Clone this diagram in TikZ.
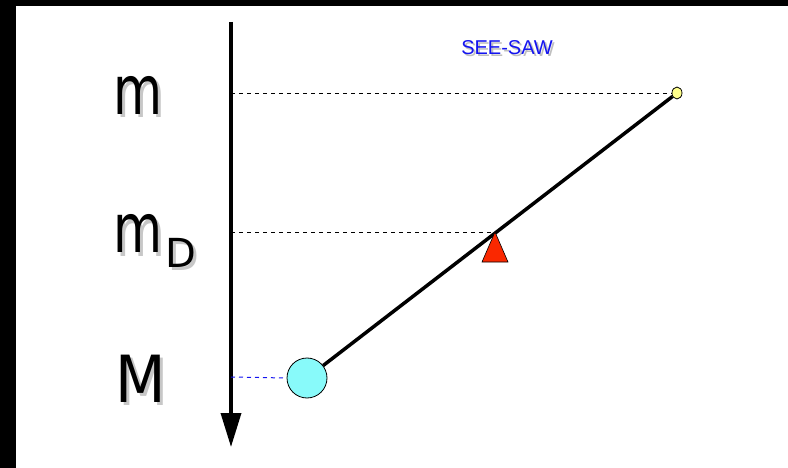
\documentclass[tikz,border=0pt]{standalone}
\usepackage{fontspec}
\setmainfont{Liberation Sans}
\newfontfamily\hand{DejaVu Sans}
\usetikzlibrary{arrows.meta,shapes.geometric}
\definecolor{ballcyan}{RGB}{136,250,250}
\definecolor{tipyellow}{RGB}{255,255,140}
\definecolor{fulcrumred}{RGB}{250,40,0}
\definecolor{seeblue}{RGB}{20,20,240}
\newcommand{\seesawm}{\scalebox{0.74}[1]{\fontsize{68}{72}\selectfont m}}
\newcommand{\seesawmd}{\seesawm\hspace{3pt}\raisebox{-14pt}{\fontsize{40}{44}\selectfont D}}
\newcommand{\seesawM}{\scalebox{0.9}[1]{\fontsize{65}{70}\selectfont M}}
\tikzset{
  guide/.style={dashed, line width=0.8pt, dash pattern=on 4pt off 4pt},
  lbl/.style={font=\hand, inner sep=0pt, anchor=base west},
  shade/.style={lbl, text=black!22},
}
\begin{document}
\begin{tikzpicture}[x=1pt,y=-1pt]
\useasboundingbox (0,0) rectangle (788,468);
\fill[white] (0,0) rectangle (788,468);
\fill[black] (0,0) rectangle (16,468);
\fill[black] (0,0) rectangle (788,6);
% axis
\coordinate (atop) at (231,22);
\coordinate (abot) at (231,447);
\draw[line width=3.5pt, -{Triangle[width=20pt,length=34pt]}] (atop) -- (abot);
% levels
\coordinate (lm) at (231,93);
\coordinate (lmd) at (231,232);
\coordinate (lM) at (231,377);
% seesaw
\node[draw=black, line width=0.8pt, fill=tipyellow, ellipse, minimum width=10pt, minimum height=12pt, inner sep=0pt] (tip) at (677,93) {};
\node[draw=black, line width=0.8pt, fill=ballcyan, circle, minimum size=40pt, inner sep=0pt] (ball) at (307,378) {};
\coordinate (piv) at (495,232);
\draw[guide] (lm) -- (tip.west);
\draw[guide] (lmd) -- (piv);
\draw[guide, draw=seeblue, line width=1pt] (lM) -- (ball.west);
\draw[line width=3.5pt] (ball) -- (tip);
\draw[fill=fulcrumred, line width=0.6pt] (piv) -- (508,262) -- (482,262) -- cycle;
% labels (with soft drop shadows)
\node[shade] at (116,118) {\seesawm};
\node[lbl] (tm) at (113,115) {\seesawm};
\node[shade] at (116,256) {\seesawmd};
\node[lbl] (tmd) at (113,253) {\seesawmd};
\node[shade] at (118,405) {\seesawM};
\node[lbl] (tM) at (115,402) {\seesawM};
\node[text=black!25, font=\fontsize{20}{22}\selectfont] at (509,50) {SEE-SAW};
\node[text=seeblue, font=\fontsize{20}{22}\selectfont] (title) at (507,48) {SEE-SAW};
\end{tikzpicture}
\end{document}
